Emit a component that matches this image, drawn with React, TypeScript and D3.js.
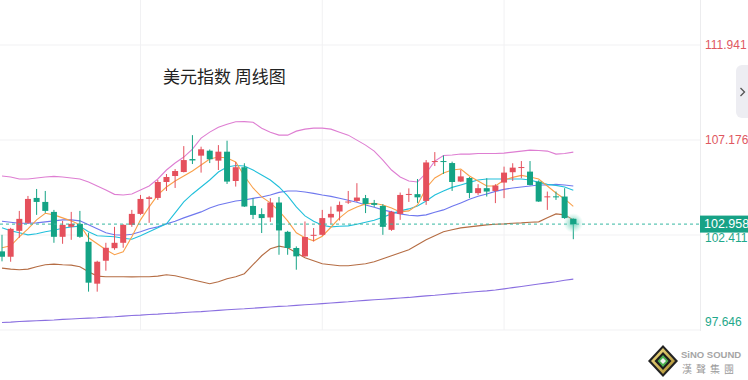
import React from 'react';
import * as d3 from 'd3';

const W = 748;
const H = 380;

const title = '美元指数 周线图';
const tickValues = [111.941, 107.176, 102.411, 97.646];
const lastPrice = 102.958;

const opens = [101.59,101.32,102.62,103.02,104.27,104.07,103.57,102.32,102.82,102.97,102.07,99.97,101.12,101.75,102.02,102.92,103.47,104.22,104.27,105.07,105.37,105.57,106.22,106.39,106.64,106.14,106.59,105.12,105.81,103.87,103.46,103.29,104.04,102.57,101.76,101.34,102.37,102.42,103.29,103.59,104.07,104.12,104.26,104.01,103.87,102.67,103.47,104.42,104.46,104.12,106.10,106.12,106.02,105.09,105.27,104.51,104.76,104.62,105.04,105.56,105.79,105.59,105.09,104.32,104.35,104.34,103.22];
const highs = [102.42,102.77,103.62,104.37,104.72,104.62,103.67,103.12,103.57,103.62,102.52,101.12,102.02,102.82,102.95,103.67,104.42,104.37,105.17,105.47,105.72,106.87,107.42,106.84,106.70,106.92,107.14,106.07,106.01,104.25,103.75,104.26,104.32,102.62,101.84,103.09,102.76,103.67,103.84,104.09,104.62,105.01,104.42,104.17,103.96,103.62,104.54,104.75,105.22,106.17,106.57,106.40,106.09,105.67,105.32,104.96,105.26,104.96,105.84,106.01,106.12,106.12,105.15,104.59,104.59,104.76,103.25];
const lows = [101.09,101.07,102.27,102.97,103.42,103.52,102.02,101.97,102.17,102.27,99.57,99.57,100.62,101.67,101.77,102.82,103.42,103.02,104.17,104.62,104.77,105.55,105.97,105.54,106.02,105.67,104.97,104.84,103.82,103.21,102.51,103.07,101.42,101.42,100.67,101.32,102.09,102.37,102.97,103.14,103.97,104.07,103.51,103.82,102.42,102.62,103.17,104.07,104.02,103.92,105.87,105.47,104.62,105.07,104.26,104.42,104.34,104.01,104.26,105.12,105.26,104.90,104.07,103.67,104.17,103.22,102.20];
const closes = [101.32,102.72,103.22,104.22,104.07,103.62,102.32,102.92,102.97,102.32,100.02,101.07,101.77,102.02,102.92,103.47,104.22,104.30,105.07,105.32,105.62,106.17,106.15,106.71,106.21,106.59,105.09,105.81,103.84,103.42,103.26,104.04,102.64,101.76,101.34,102.31,102.42,103.26,103.47,103.92,104.09,104.29,103.97,103.92,102.82,103.57,104.42,104.47,104.30,106.05,106.12,106.07,105.07,105.35,104.52,104.76,104.59,104.89,105.54,105.79,105.82,104.92,104.09,104.35,104.32,103.26,102.958];

const ma5 = [101.77,101.87,102.32,102.72,103.17,103.50,103.42,103.27,103.12,102.92,102.27,101.97,101.67,101.42,101.57,102.32,103.17,103.82,104.42,104.82,105.12,105.37,105.62,105.92,106.22,106.32,106.27,106.07,105.37,104.77,104.32,104.02,103.62,103.12,102.52,102.27,102.12,102.35,102.80,103.27,103.62,103.82,103.97,104.00,103.92,103.77,103.57,103.62,103.92,104.77,105.27,105.52,105.67,105.72,105.37,105.12,104.87,104.87,105.17,105.30,105.40,105.32,105.22,104.87,104.52,104.22,103.85];
const ma10 = [102.77,102.62,102.52,102.42,102.47,102.57,102.65,102.75,102.82,102.85,102.57,102.37,102.35,102.32,102.25,102.20,102.37,102.57,102.77,102.97,103.52,104.07,104.47,104.82,105.17,105.57,105.82,105.90,105.87,105.67,105.42,105.17,104.82,104.37,103.82,103.37,103.10,102.90,102.82,102.85,102.87,102.95,103.05,103.15,103.30,103.47,103.62,103.72,103.87,104.12,104.42,104.62,104.80,104.92,105.05,105.17,105.22,105.22,105.22,105.22,105.22,105.17,105.05,104.95,104.90,104.82,104.65];
const ma20 = [103.10,103.05,103.00,103.00,103.02,103.07,103.12,103.17,103.17,103.12,102.92,102.72,102.52,102.42,102.40,102.45,102.57,102.72,102.82,102.97,103.10,103.27,103.42,103.57,103.77,103.92,104.02,104.12,104.17,104.25,104.32,104.42,104.55,104.62,104.62,104.57,104.50,104.42,104.35,104.25,104.15,104.05,103.92,103.80,103.67,103.57,103.47,103.40,103.37,103.42,103.55,103.67,103.85,104.02,104.20,104.35,104.47,104.60,104.70,104.77,104.82,104.87,104.92,104.92,104.95,104.92,104.87];
const bollUpper = [105.37,105.32,105.22,105.22,105.27,105.32,105.35,105.32,105.27,105.22,105.07,104.87,104.67,104.45,104.42,104.47,104.67,104.87,105.22,105.67,106.02,106.32,106.72,107.27,107.57,107.82,107.97,108.09,108.10,108.07,107.77,107.57,107.42,107.42,107.62,107.72,107.77,107.77,107.72,107.57,107.42,107.17,106.92,106.62,106.17,105.67,105.32,105.12,105.07,105.52,106.12,106.40,106.42,106.47,106.47,106.50,106.50,106.50,106.52,106.57,106.62,106.67,106.65,106.62,106.47,106.50,106.57];
const bollLower = [100.75,100.70,100.67,100.70,100.82,100.92,100.95,100.92,100.90,100.82,100.57,100.35,100.32,100.32,100.32,100.31,100.32,100.32,100.35,100.42,100.37,100.27,100.17,100.07,99.97,100.07,100.22,100.32,100.47,100.92,101.37,101.72,101.85,101.77,101.52,101.27,101.12,100.97,100.92,100.87,100.87,100.92,100.97,101.07,101.22,101.37,101.52,101.67,101.92,102.17,102.37,102.57,102.67,102.77,102.82,102.87,102.92,102.95,102.97,103.00,103.02,103.05,103.07,103.27,103.47,103.42,103.17];
const ma120 = [98.02,98.04,98.07,98.09,98.11,98.13,98.15,98.18,98.20,98.22,98.24,98.26,98.29,98.31,98.34,98.37,98.39,98.42,98.44,98.47,98.49,98.52,98.55,98.57,98.60,98.63,98.66,98.69,98.71,98.74,98.77,98.80,98.83,98.85,98.88,98.91,98.94,98.97,99.00,99.03,99.06,99.10,99.13,99.16,99.19,99.22,99.25,99.28,99.32,99.36,99.39,99.43,99.47,99.50,99.54,99.58,99.61,99.65,99.71,99.77,99.83,99.89,99.95,100.01,100.07,100.14,100.20];

const gridIdx = [16, 37, 58];

const UP = '#e5505c';
const DOWN = '#14a385';

export default function App() {
  const plotRight = 700;
  const x = d3.scaleLinear().domain([0, closes.length - 1]).range([2, 573.3]);
  const y = d3.scaleLinear().domain([97.646, 111.941]).range([330, 45]);
  const line = (arr: number[]) =>
    d3.line<number>().x((_, i) => x(i)).y((v) => y(v))(arr) || '';

  const lines: [number[], string][] = [
    [ma120, '#8a6fe0'],
    [bollLower, '#b56d44'],
    [bollUpper, '#de7ed2'],
    [ma20, '#6f78ee'],
    [ma10, '#22c0db'],
    [ma5, '#f9a04a'],
  ];
  const bw = 6;
  const lastI = closes.length - 1;

  return (
    <svg
      width={W}
      height={H}
      style={{ position: 'fixed', left: 0, top: 0, background: '#fff' }}
      fontFamily="'Liberation Sans', Arial, sans-serif"
    >
      <defs>
        <radialGradient id="glow">
          <stop offset="0%" stopColor="#3bbf9f" stopOpacity={0.75} />
          <stop offset="60%" stopColor="#6fd3ba" stopOpacity={0.35} />
          <stop offset="100%" stopColor="#9be3d0" stopOpacity={0} />
        </radialGradient>
        <linearGradient id="gold" x1="0" y1="0" x2="1" y2="1">
          <stop offset="0%" stopColor="#f3e08a" />
          <stop offset="100%" stopColor="#a98a2a" />
        </linearGradient>
      </defs>
      <rect x={0} y={0} width={W} height={H} fill="#fff" />
      {gridIdx.map((g) => (
        <line key={g} x1={x(g)} x2={x(g)} y1={0} y2={330} stroke="#f1f1f3" strokeWidth={1} />
      ))}
      {tickValues.map((t) => (
        <line key={t} x1={0} x2={plotRight} y1={y(t)} y2={y(t)} stroke="#f1f1f3" strokeWidth={1} />
      ))}
      <line x1={plotRight + 0.5} x2={plotRight + 0.5} y1={0} y2={331} stroke="#ececee" />
      <text x={163} y={83} fontSize={17} fill="#222" fontFamily="'Noto Sans CJK SC', sans-serif">
        {title}
      </text>
      {lines.map(([arr, c], k) => (
        <path key={k} d={line(arr)} fill="none" stroke={c} strokeWidth={1.1} />
      ))}
      {closes.map((c, i) => {
        const o = opens[i];
        const up = c >= o;
        const col = up ? UP : DOWN;
        const top = y(Math.max(o, c));
        const h = Math.max(1, Math.abs(y(o) - y(c)));
        return (
          <g key={i}>
            <line x1={x(i)} x2={x(i)} y1={y(highs[i])} y2={y(lows[i])} stroke={col} strokeWidth={1} />
            <rect x={x(i) - bw / 2} y={top} width={bw} height={h} fill={col} />
          </g>
        );
      })}
      <line x1={0} x2={plotRight} y1={y(lastPrice)} y2={y(lastPrice)} stroke="#34b8a2" strokeDasharray="3,3" strokeWidth={1} />
      <circle cx={x(lastI)} cy={y(lastPrice) - 1} r={10} fill="url(#glow)" />
      <rect x={x(lastI) - bw / 2} y={y(opens[lastI])} width={bw} height={y(lastPrice) - y(opens[lastI])} fill={DOWN} />
      {tickValues.map((t, k) => (
        <text
          key={t}
          x={705}
          y={k === tickValues.length - 1 ? y(t) - 8 : k === 2 ? y(t) + 2.5 : y(t)}
          dominantBaseline="central"
          fontSize={12}
          fill={t > lastPrice ? '#e0575f' : '#1fa88b'}
        >
          {t.toFixed(3)}
        </text>
      ))}
      <rect x={plotRight} y={y(lastPrice) - 8.5} width={48} height={17} fill="#17a286" />
      <text x={704} y={y(lastPrice)} dominantBaseline="central" fontSize={12.5} fill="#fff">
        {lastPrice.toFixed(3)}
      </text>
      <rect x={736} y={65} width={24} height={53} rx={6} fill="#ededf2" />
      <path d="M740.5,88 L744.5,92 L740.5,96" fill="none" stroke="#555" strokeWidth={1.3} />
      <g>
        <polygon points="663,345 678,361 663,377 648,361" fill="#222" />
        <polygon points="663,348 675,361 663,374 651,361" fill="url(#gold)" />
        <polygon points="663,352 671.5,361 663,370 654.5,361" fill="#1c1c1c" />
        <polygon points="663,355 668.5,361 663,367 657.5,361" fill="#4caf50" />
        <polygon points="663,358 666,361 663,364 660,361" fill="#f0f0f0" />
        <text x={681} y={358} fontSize={9.5} fontWeight="bold" fill="#a5a5a5">
          SiNO SOUND
        </text>
        <text x={682} y={373} fontSize={10} fill="#9a9a9a" fontFamily="'Noto Sans CJK TC', sans-serif" letterSpacing={4}>
          漢聲集團
        </text>
      </g>
    </svg>
  );
}
